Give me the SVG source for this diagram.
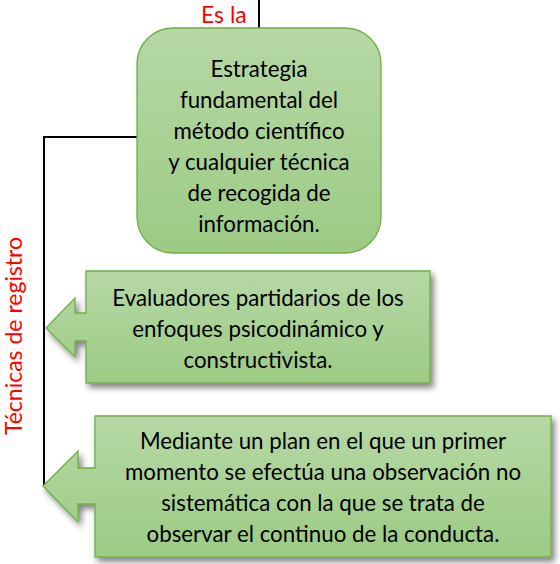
<svg xmlns="http://www.w3.org/2000/svg" width="560" height="564" viewBox="0 0 560 564">
<style>
.t{font-family:Lato,"Open Sans","Liberation Sans",sans-serif;font-size:22.3px;fill:#000;text-anchor:middle}
.r{font-family:Lato,"Open Sans","Liberation Sans",sans-serif;font-size:23px;fill:#ff0000}
.shape{fill:url(#g);stroke:#70ad47;stroke-width:1.3}
.ln{fill:none;stroke:#000;stroke-width:2}
</style>
<defs>
<linearGradient id="g" x1="0" y1="0" x2="0" y2="1">
<stop offset="0" stop-color="#b6d8a5"/>
<stop offset="1" stop-color="#9ccb84"/>
</linearGradient>
<filter id="sh" x="-10%" y="-10%" width="125%" height="130%">
<feGaussianBlur in="SourceAlpha" stdDeviation="3"/>
<feOffset dx="3" dy="4" result="b"/>
<feComponentTransfer><feFuncA type="linear" slope="0.5"/></feComponentTransfer>
<feMerge><feMergeNode/><feMergeNode in="SourceGraphic"/></feMerge>
</filter>
</defs>
<g id="connectors">
<line class="ln" x1="259" y1="0" x2="259" y2="28"/>
<polyline class="ln" points="137,137 44,137 44,486"/>
</g>
<g id="label-es-la"><text class="r" x="201" y="23">Es la</text></g>
<g id="label-tecnicas"><text class="r" x="0" y="0" text-anchor="middle" transform="translate(22,336) rotate(-90)">Técnicas de registro</text></g>
<g id="node-estrategia">
<rect class="shape" x="137" y="28" width="244" height="225" rx="36" ry="36"/>
<text class="t" x="259" y="77">Estrategia</text>
<text class="t" x="259" y="108">fundamental del</text>
<text class="t" x="259" y="139">método científico</text>
<text class="t" x="259" y="170">y cualquier técnica</text>
<text class="t" x="259" y="201">de recogida de</text>
<text class="t" x="259" y="232">información.</text>
</g>
<g id="node-evaluadores">
<path class="shape" filter="url(#sh)" d="M86,271 H430 V383 H86 V341 H75 V357 L46,328 L75,298 V313 H86 Z"/>
<text class="t" x="258" y="306">Evaluadores partidarios de los</text>
<text class="t" x="258" y="337">enfoques psicodinámico y</text>
<text class="t" x="258" y="368">constructivista.</text>
</g>
<g id="node-mediante">
<path class="shape" filter="url(#sh)" d="M95,416 H551 V557 H95 V504 H78 V522 L43,486 L78,451 V468 H95 Z"/>
<text class="t" x="323" y="449">Mediante un plan en el que un primer</text>
<text class="t" x="323" y="480">momento se efectúa una observación no</text>
<text class="t" x="323" y="511">sistemática con la que se trata de</text>
<text class="t" x="323" y="542">observar el continuo de la conducta.</text>
</g>
</svg>
